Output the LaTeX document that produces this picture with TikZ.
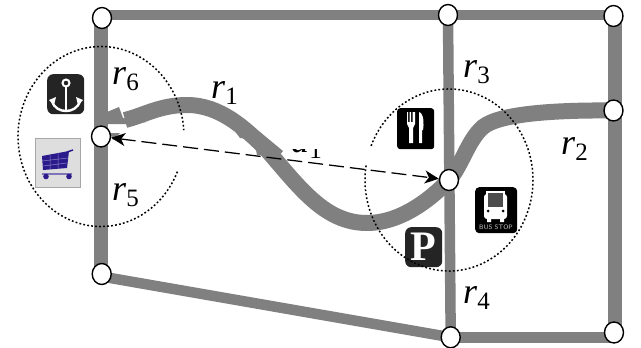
\documentclass[tikz,border=0pt]{standalone}
\usepackage{fontspec}
\setmainfont{Liberation Serif}
\usetikzlibrary{arrows.meta,shapes.geometric,backgrounds}
\definecolor{roadgray}{HTML}{808080}
\definecolor{icondark}{HTML}{242424}
\definecolor{cartblue}{HTML}{2A1A8C}
\newcommand{\roadname}[2]{{\fontsize{36}{40}\selectfont\textit{#1}\raisebox{-6pt}{\fontsize{25}{28}\selectfont #2}}}
\tikzset{
    junction/.style={ellipse, draw=black, fill=white, line width=1.4pt, minimum width=19pt, minimum height=21pt, inner sep=0pt},
    road/.style={roadgray, line width=14pt},
    curveroad/.style={roadgray, line width=16pt},
    thinroad/.style={roadgray, line width=10.5pt},
    zone/.style={black, line width=1.5pt, dash pattern=on 1.8pt off 2.2pt},
    gap/.style={<->, >={Stealth[length=14pt, width=13pt, inset=4pt]}, line width=1.3pt, dash pattern=on 15pt off 6pt},
    roadlabel/.style={anchor=base west, inner sep=0pt},
    iconbox/.style={anchor=north west, rounded corners=6pt, fill=icondark, inner sep=0pt},
    glyph/.style={white, line width=2.4pt}
}
\begin{document}
\begin{tikzpicture}[x=1pt, y=-1pt]
    \useasboundingbox (0,0) rectangle (641,348);

    \node[junction] (nw) at (102,18) {};
    \node[junction] (nm) at (448,15) {};
    \node[junction] (ne) at (613.5,16) {};
    \node[junction] (wj) at (101,136.5) {};
    \node[junction] (mj) at (449,180) {};
    \node[junction] (ej) at (613.5,110.5) {};
    \node[junction] (sw) at (101.7,274) {};
    \node[junction] (sm) at (450.7,337.3) {};
    \node[junction] (se) at (614,332.5) {};
    \coordinate (swroad) at (101.7,276.5);
    \coordinate (rightroad) at (614.5,15);

    % roads
    \begin{scope}[on background layer]
    \draw[road] (101.3,18) -- (101.3,274);
    \draw[road] (rightroad) -- (rightroad |- se);
    \draw[thinroad] (nw |- nm) -- (nm.center);
    \draw[thinroad] (nm.center) -- (ne |- nm);
    \draw[thinroad] (nm.center) -- (sm.center);
    \draw[thinroad] (swroad) -- (sm.center);
    \draw[thinroad] (sm.center) -- (se |- sm);
    \draw[curveroad] (125,120) .. controls (145,115) and (160,105) .. (187,105)
        .. controls (220,105) and (245,128) .. (267,150)
        .. controls (300,188) and (325,223) .. (367,223)
        .. controls (400,223) and (430,200) .. (mj.center)
        .. controls (462,165) and (468,140) .. (483,127)
        .. controls (500,113) and (560,110) .. (ej.center);
    \fill[roadgray] (107,112) -- (119,107) -- (123,118) -- (147,122) -- (130,124) -- (107,124) -- cycle;
    \fill[roadgray] (260,132) -- (283,151) -- (278,157) -- (257,155) -- (255,145) -- (257,140) -- (240,138) -- (230,125) -- cycle;
    \fill[roadgray] (110,133) -- (120,133) -- (113,140) -- cycle;
    \end{scope}

    % labels
    \node[roadlabel] (rone) at (211,98) {\roadname{r}{1}};
    \node[roadlabel] (rtwo) at (561,154) {\roadname{r}{2}};
    \node[roadlabel] (rthree) at (463,77) {\roadname{r}{3}};
    \node[roadlabel] (rfour) at (463,303) {\roadname{r}{4}};
    \node[roadlabel] (rfive) at (112,200) {\roadname{r}{5}};
    \node[roadlabel] (rsix) at (112,84) {\roadname{r}{6}};
    \begin{scope}
        \clip (285,149.5) rectangle (330,170);
        \node[roadlabel] (done) at (291,152) {\roadname{d}{1}};
    \end{scope}

    % anchor
    \node[iconbox, minimum width=37pt, minimum height=40pt] (anchoricon) at (47,74) {};
    \draw[glyph, line width=2pt] (66,83) circle (3.5);
    \draw[glyph] (66,87) -- (66,111);
    \draw[glyph] (52,101) .. controls (54,108) and (60,111) .. (66,111) .. controls (72,111) and (78,108) .. (80,101);
    \fill[white] (49,100) -- (56,97) -- (54,105) -- cycle;
    \fill[white] (83,100) -- (76,97) -- (78,105) -- cycle;

    % cart
    \node[anchor=north west, fill=black!13, draw=black!35, line width=1pt, minimum width=45pt, minimum height=49pt, inner sep=0pt] (carticon) at (34.5,137.5) {};
    \fill[cartblue] (42,156) -- (69,151) -- (67,168) -- (43,170) -- cycle;
    \draw[cartblue!55, line width=0.5pt] (50,155) -- (50,169) (58,153) -- (58,169) (42,161) -- (68,158) (43,166) -- (67,163);
    \draw[cartblue, line width=1.5pt] (67,152) -- (73,150);
    \draw[cartblue!60, line width=1.5pt] (42,174) -- (72,174);
    \fill[cartblue] (46,176.5) circle (2.8) (69,176.5) circle (2.8);

    % fork and knife
    \node[iconbox, fill=black, minimum width=37pt, minimum height=41pt, rounded corners=3pt] (foodicon) at (397,108) {};
    \fill[white] (407,112) -- (408,112) -- (408,122) -- (409.5,122) -- (409.5,112) -- (411,112) -- (411,122) -- (412.5,122) -- (412.5,112) -- (414,112) -- (415,112) -- (415,124) -- (413,128) -- (413,143) -- (409,143) -- (409,128) -- (407,124) -- cycle;
    \fill[white] (419,112) .. controls (424,113) and (424,125) .. (423,130) -- (422,130) -- (422,143) -- (419,143) -- cycle;

    % parking
    \node[iconbox, minimum width=37pt, minimum height=40pt, text=white, font=\fontsize{42}{42}\selectfont\bfseries] (parkicon) at (405,227) {P};

    % bus
    \node[iconbox, fill=black, minimum width=42pt, minimum height=46pt, rounded corners=4pt] (busicon) at (475,187) {};
    \fill[white, rounded corners=3pt] (484,194) rectangle (507,219);
    \fill[white] (486,190.5) rectangle (505,196);
    \fill[black!70] (488,193) rectangle (503,207);
    \fill[white] (487,219) rectangle (491,222) (500,219) rectangle (504,222);
    \fill[black] (488,211) circle (1.5) (503,211) circle (1.5);
    \node[anchor=center, inner sep=0pt, text=black!20, font=\fontsize{6.5}{7}\selectfont\sffamily] (bustext) at (496,227) {BUS STOP};

    % zones
    \draw[zone] (wj.center) ++(23:83 and 90) arc[start angle=23, end angle=356, x radius=83, y radius=90];
    \draw[zone] (mj.center) ++(202:84 and 91) arc[start angle=202, end angle=550, x radius=84, y radius=91];

    \draw[gap] (wj) -- (mj);
\end{tikzpicture}
\end{document}
